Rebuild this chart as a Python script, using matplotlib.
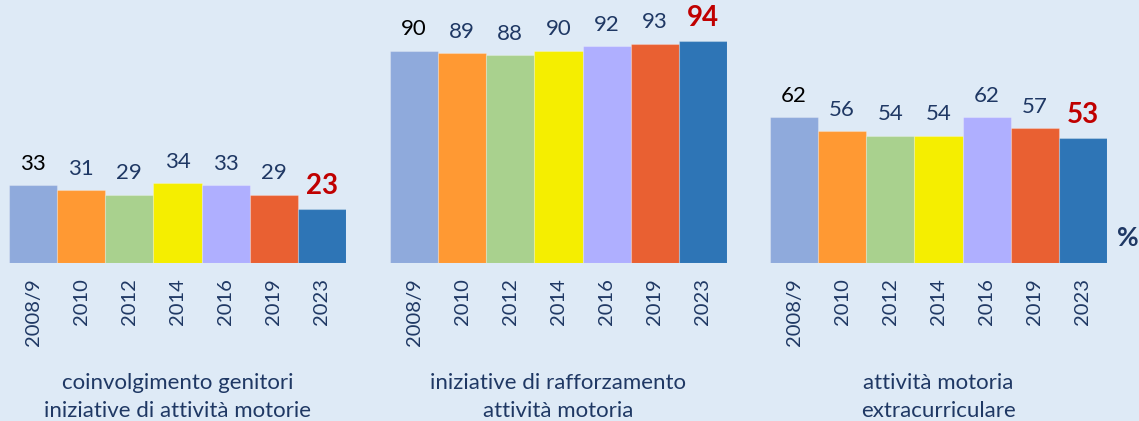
import matplotlib.pyplot as plt

plt.rcParams["font.family"] = ["Lato", "DejaVu Sans"]

years = ["2008/9", "2010", "2012", "2014", "2016", "2019", "2023"]
coinvolgimento = [33, 31, 29, 34, 33, 29, 23]
rafforzamento = [90, 89, 88, 90, 92, 93, 94]
extracurriculare = [62, 56, 54, 54, 62, 57, 53]
titles = [
    "coinvolgimento genitori\niniziative di attività motorie",
    "iniziative di rafforzamento\nattività motoria",
    "attività motoria\nextracurriculare",
]

bar_colors = ["#8FAADC", "#FF9933", "#A9D18E", "#F5EE00", "#AFAFFF", "#E96032", "#2E75B6"]
bg = "#DEEAF6"
navy = "#1F3864"
red = "#C00000"

W, H = 1139, 421
fig = plt.figure(figsize=(W / 100, H / 100), dpi=100, facecolor=bg)

baseline = 263          # pixel row of the bar baseline
px_per_unit = 2.36
lefts = [9, 390, 770]
group_w = 337

for left, values, title in zip(lefts, [coinvolgimento, rafforzamento, extracurriculare], titles):
    ax = fig.add_axes([left / W, (H - baseline) / H, group_w / W, baseline / H])
    ax.set_facecolor("none")
    x = range(len(years))
    ax.bar(x, values, width=1.0, color=bar_colors, edgecolor="#FFFFFF40", linewidth=0.8)
    ax.set_xlim(-0.5, len(years) - 0.5)
    ax.set_ylim(0, baseline / px_per_unit)
    for s in ax.spines.values():
        s.set_visible(False)
    ax.set_yticks([])
    ax.set_xticks(list(x))
    ax.set_xticklabels(years, rotation=90, fontsize=14.5, color=navy)
    ax.tick_params(axis="x", length=0, pad=11)

    for i, v in enumerate(values):
        if i == len(values) - 1:
            ax.annotate(str(v), (i, v), xytext=(0, 7), textcoords="offset points",
                        ha="center", va="bottom", fontsize=20, fontweight="bold", color=red)
        else:
            c = "black" if i == 0 else navy
            ax.annotate(str(v), (i, v), xytext=(0, 8), textcoords="offset points",
                        ha="center", va="bottom", fontsize=16, color=c)

    cx = (left + group_w / 2) / W
    fig.text(cx, 1 - 397 / H, title, ha="center", va="center", fontsize=16,
             color=navy, linespacing=1.5)

fig.text(1128 / W, 1 - 238 / H, "%", ha="center", va="center", fontsize=19,
         fontweight="bold", color=navy)

fig.savefig("out.png", dpi=100, facecolor=bg)
